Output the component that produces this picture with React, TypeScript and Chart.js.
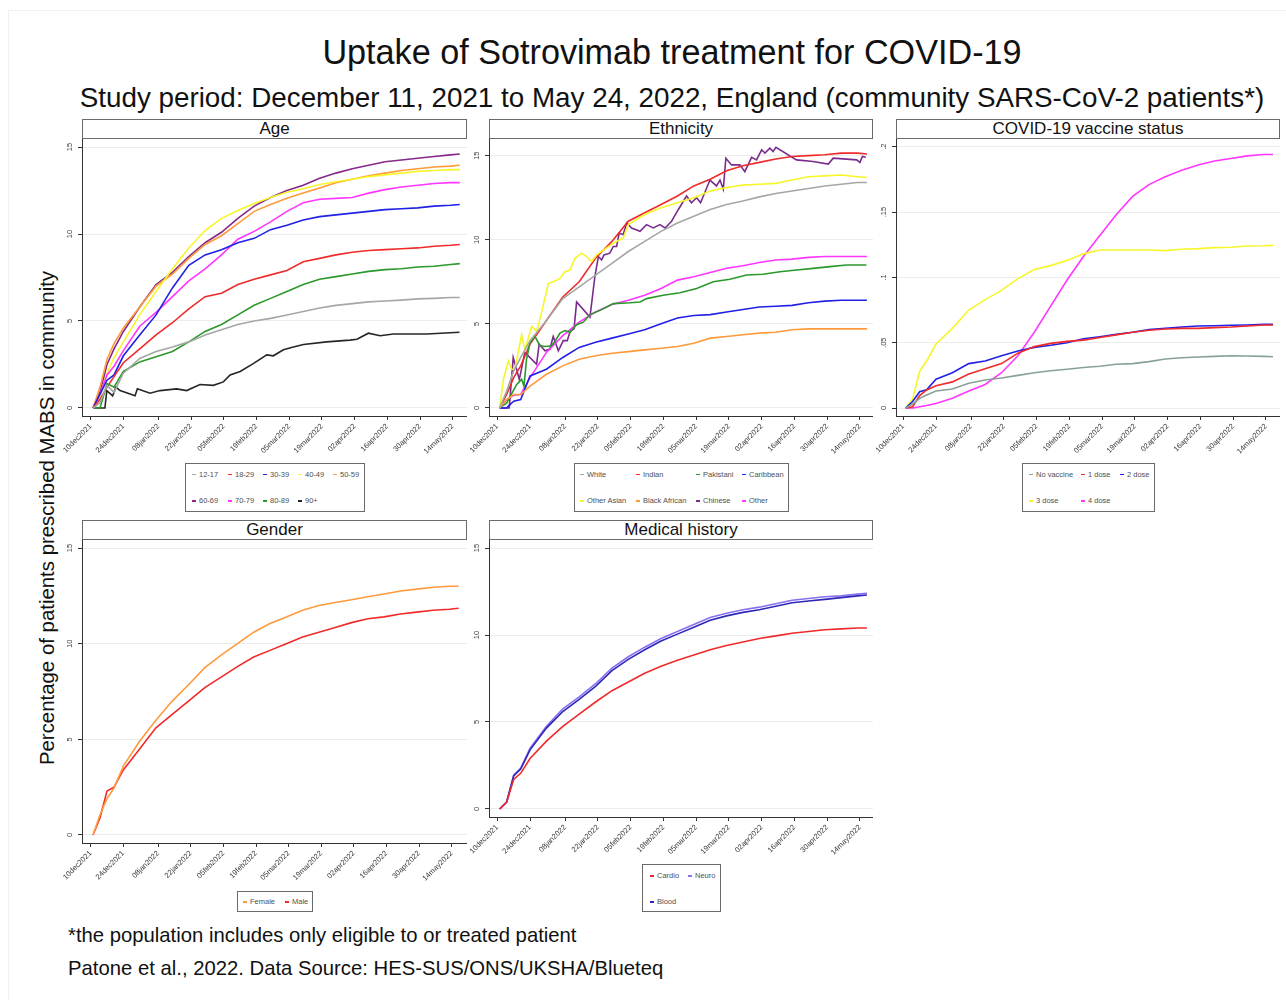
import React, { useEffect, useRef } from 'react';
import { Chart, registerables } from 'chart.js';

Chart.register(...registerables);

const FONT = '"Liberation Sans", Arial, Helvetica, sans-serif';

// ---------- axis ticks ----------
const dateTickDays = [0, 14, 29, 43, 57, 71, 85, 99, 113, 127, 141, 155];
const dateTickLabels = ['10dec2021', '24dec2021', '08jan2022', '22jan2022', '05feb2022', '19feb2022', '05mar2022', '19mar2022', '02apr2022', '16apr2022', '30apr2022', '14may2022'];
const pctTicks = [0, 5, 10, 15];
const pctTickLabels = ['0', '5', '10', '15'];
const vacTicks = [0, 0.05, 0.1, 0.15, 0.2];
const vacTickLabels = ['0', '.05', '.1', '.15', '.2'];

// ---------- shared day grid (days since 10dec2021) ----------
const days = [1, 4, 7, 10, 14, 21, 28, 35, 42, 49, 56, 63, 70, 77, 84, 91, 98, 105, 112, 119, 126, 133, 140, 147, 154, 158];

// ---------- Age ----------
const age1217 = [0, 0.3, 1.3, 0.9, 2.0, 2.85, 3.25, 3.5, 3.8, 4.2, 4.5, 4.8, 5.0, 5.15, 5.35, 5.55, 5.75, 5.9, 6.0, 6.1, 6.15, 6.2, 6.27, 6.3, 6.35, 6.35];
const age1829 = [0, 0.5, 1.2, 1.8, 2.6, 3.4, 4.2, 4.9, 5.7, 6.4, 6.6, 7.1, 7.4, 7.65, 7.9, 8.4, 8.6, 8.8, 8.95, 9.05, 9.1, 9.15, 9.2, 9.3, 9.35, 9.4];
const age3039 = [0, 0.8, 1.6, 1.9, 3.0, 4.2, 5.35, 6.9, 8.2, 8.8, 9.1, 9.5, 9.75, 10.25, 10.5, 10.8, 11.0, 11.1, 11.2, 11.3, 11.4, 11.45, 11.5, 11.6, 11.65, 11.7];
const age4049 = [0, 0.7, 2.0, 2.9, 3.8, 5.35, 6.7, 8.0, 9.2, 10.2, 10.9, 11.35, 11.75, 12.1, 12.4, 12.6, 12.85, 13.0, 13.15, 13.3, 13.4, 13.5, 13.6, 13.65, 13.7, 13.7];
const age5059 = [0, 1.2, 2.8, 3.7, 4.6, 5.8, 7.0, 7.7, 8.6, 9.4, 9.9, 10.6, 11.3, 11.7, 12.05, 12.35, 12.65, 12.95, 13.15, 13.35, 13.5, 13.65, 13.75, 13.85, 13.9, 13.95];
const age6069 = [0, 0.9, 2.5, 3.4, 4.4, 5.8, 7.1, 7.8, 8.7, 9.5, 10.1, 10.9, 11.6, 12.1, 12.5, 12.8, 13.2, 13.5, 13.75, 13.95, 14.15, 14.25, 14.35, 14.45, 14.55, 14.6];
const age7079 = [0, 0.8, 1.9, 2.4, 3.3, 4.7, 5.5, 6.4, 7.3, 8.0, 8.8, 9.7, 10.15, 10.7, 11.3, 11.8, 12.0, 12.05, 12.1, 12.35, 12.55, 12.7, 12.8, 12.9, 12.95, 12.95];
const age8089 = [0, 0, 1.4, 1.2, 2.1, 2.65, 2.95, 3.25, 3.8, 4.4, 4.8, 5.35, 5.9, 6.3, 6.7, 7.1, 7.4, 7.55, 7.7, 7.85, 7.95, 8.0, 8.1, 8.15, 8.25, 8.3];
const age90Days = [1, 6.1, 6.9, 9.4, 10.8, 12.6, 19.0, 20.0, 25.4, 29.7, 36.8, 41.1, 46.8, 52.5, 56.8, 59.7, 64.0, 69.6, 75.4, 78.2, 82.5, 86.8, 91.1, 101, 111, 114, 118.9, 123.9, 129.6, 143.9, 157.9];
const age90 = [0, 0, 1.0, 0.7, 1.2, 1.0, 0.7, 1.1, 0.85, 1.0, 1.1, 1.0, 1.35, 1.3, 1.5, 1.9, 2.1, 2.55, 3.05, 3.0, 3.35, 3.5, 3.65, 3.8, 3.9, 3.95, 4.3, 4.15, 4.25, 4.25, 4.35];

// ---------- Ethnicity ----------
const ethWhite = [0, 1.0, 2.2, 3.0, 4.0, 5.2, 6.5, 7.2, 7.9, 8.6, 9.3, 9.9, 10.5, 11.0, 11.4, 11.8, 12.1, 12.3, 12.55, 12.75, 12.9, 13.05, 13.2, 13.3, 13.4, 13.4];
const ethIndian = [0, 0.8, 1.8, 2.5, 3.8, 5.2, 6.6, 7.5, 8.9, 9.9, 11.1, 11.6, 12.1, 12.6, 13.2, 13.6, 14.1, 14.4, 14.6, 14.8, 14.95, 15.0, 15.05, 15.15, 15.15, 15.1];
const ethPakDays = [1, 4, 8.3, 10.4, 11.4, 12.5, 14.0, 16.1, 18.2, 20.4, 23.2, 24.6, 26.8, 28.9, 31.1, 33.9, 36.8, 39.6, 43.9, 49.6, 56.7, 61.0, 63.8, 70.9, 78.1, 85.2, 92.3, 99.4, 106.6, 113.7, 120.8, 127.9, 135.0, 142.2, 149.3, 157.8];
const ethPak = [0, 0.3, 1.4, 1.7, 1.3, 2.9, 3.9, 4.25, 3.7, 3.65, 3.7, 3.95, 4.45, 4.6, 4.5, 4.95, 5.1, 5.55, 5.8, 6.2, 6.25, 6.3, 6.5, 6.7, 6.85, 7.1, 7.5, 7.65, 7.9, 7.95, 8.1, 8.2, 8.3, 8.4, 8.5, 8.5];
const ethCarib = [0, 0, 0.4, 0.5, 1.9, 2.3, 3.0, 3.6, 3.9, 4.15, 4.4, 4.65, 5.0, 5.35, 5.5, 5.55, 5.7, 5.85, 6.0, 6.05, 6.1, 6.25, 6.35, 6.4, 6.4, 6.4];
const ethOAsianDays = [1, 2.6, 4.7, 6.1, 7.5, 10.4, 11.8, 14.7, 16.8, 18.9, 21.8, 23.9, 26.8, 28.9, 31.1, 33.2, 36.0, 38.2, 40.3, 42.5, 49.6, 53.8, 56.0, 63, 70, 77, 84, 91, 98, 105, 112, 119, 126, 133, 140, 147, 154, 158];
const ethOAsian = [0, 1.7, 2.8, 2.3, 2.3, 4.35, 3.45, 4.85, 4.55, 5.65, 7.4, 7.5, 7.7, 8.1, 8.2, 8.9, 9.2, 9.0, 8.7, 9.1, 9.8, 10.1, 10.9, 11.5, 11.9, 12.2, 12.5, 12.9, 13.1, 13.25, 13.3, 13.35, 13.55, 13.75, 13.8, 13.85, 13.75, 13.7];
const ethBlackAf = [0, 0.5, 0.8, 0.8, 1.3, 2.0, 2.5, 2.9, 3.1, 3.25, 3.35, 3.45, 3.55, 3.65, 3.85, 4.15, 4.25, 4.35, 4.45, 4.5, 4.65, 4.7, 4.7, 4.7, 4.7, 4.7];
const ethChineseDays = [1, 5.1, 6.8, 9.4, 11.8, 16.8, 17.9, 20.4, 22.5, 23.9, 26.1, 28.2, 29.9, 31.1, 32.8, 33.9, 39.6, 41.7, 43.2, 44.6, 45.6, 48.1, 49.6, 51.0, 52.1, 53.8, 55.3, 57.4, 61.0, 63.8, 66.7, 69.5, 71.7, 74.5, 77.4, 80.9, 83.0, 85.2, 86.9, 90.9, 93.7, 95.2, 96.6, 97.7, 100.1, 103.7, 105.8, 108.7, 110.8, 113.0, 114.4, 116.5, 117.9, 119.1, 127.9, 135.0, 141.5, 143.6, 153.6, 155.0, 156.1, 157.5];
const ethChinese = [0, 0, 3.0, 1.7, 3.3, 2.6, 3.8, 3.4, 3.5, 4.25, 3.4, 4.0, 4.0, 4.55, 4.7, 6.3, 5.4, 7.8, 9.0, 8.8, 9.1, 9.2, 9.6, 9.6, 10.4, 10.3, 11.0, 10.7, 10.5, 10.9, 10.7, 10.9, 10.7, 11.1, 11.8, 12.6, 12.2, 12.5, 12.2, 13.55, 13.2, 13.55, 13.0, 14.85, 14.45, 14.45, 14.05, 14.9, 14.75, 15.35, 15.15, 15.45, 15.25, 15.5, 14.75, 14.65, 14.5, 14.85, 14.75, 14.6, 14.95, 14.9];
const ethOther = [0, 0.5, 0.75, 0.8, 1.8, 3.3, 4.3, 5.1, 5.7, 6.15, 6.4, 6.7, 7.1, 7.6, 7.8, 8.05, 8.3, 8.45, 8.65, 8.8, 8.85, 8.95, 9.0, 9.0, 9.0, 9.0];

// ---------- COVID-19 vaccine status (proportions) ----------
const vacNone = [0, 0.003, 0.0074, 0.010, 0.013, 0.0145, 0.019, 0.0214, 0.023, 0.025, 0.027, 0.0285, 0.0297, 0.031, 0.032, 0.0335, 0.034, 0.0355, 0.0375, 0.0385, 0.039, 0.0395, 0.040, 0.0398, 0.0395, 0.0393];
const vacDose1 = [0, 0.001, 0.0095, 0.0138, 0.017, 0.020, 0.026, 0.030, 0.034, 0.042, 0.047, 0.0495, 0.051, 0.052, 0.054, 0.056, 0.058, 0.0595, 0.0605, 0.061, 0.061, 0.0615, 0.062, 0.0628, 0.0635, 0.0635];
const vacDose2 = [0, 0.005, 0.0125, 0.014, 0.022, 0.027, 0.034, 0.036, 0.040, 0.0436, 0.0464, 0.048, 0.050, 0.053, 0.0546, 0.0564, 0.058, 0.060, 0.061, 0.062, 0.0628, 0.063, 0.0633, 0.0636, 0.064, 0.064];
const vacDose3 = [0, 0.007, 0.028, 0.036, 0.049, 0.061, 0.075, 0.083, 0.090, 0.099, 0.106, 0.109, 0.113, 0.118, 0.121, 0.121, 0.121, 0.121, 0.1205, 0.1215, 0.122, 0.1228, 0.123, 0.124, 0.1242, 0.1245];
const vacDose4 = [0, 0, 0.001, 0.002, 0.0035, 0.0075, 0.013, 0.018, 0.027, 0.040, 0.058, 0.078, 0.098, 0.116, 0.132, 0.148, 0.162, 0.171, 0.177, 0.182, 0.186, 0.189, 0.191, 0.193, 0.194, 0.194];

// ---------- Gender ----------
const genFemale = [0, 1.06, 1.9, 2.45, 3.6, 4.9, 6.0, 7.0, 7.85, 8.75, 9.4, 10.0, 10.6, 11.05, 11.4, 11.75, 12.0, 12.15, 12.3, 12.45, 12.6, 12.75, 12.85, 12.95, 13.0, 13.0];
const genMale = [0, 0.9, 2.3, 2.5, 3.4, 4.5, 5.6, 6.3, 7.0, 7.7, 8.25, 8.8, 9.3, 9.65, 10.0, 10.35, 10.6, 10.85, 11.1, 11.3, 11.4, 11.55, 11.65, 11.75, 11.8, 11.85];

// ---------- Medical history ----------
const medCardio = [0, 0.4, 1.7, 2.05, 2.9, 3.9, 4.75, 5.45, 6.15, 6.8, 7.3, 7.8, 8.2, 8.55, 8.85, 9.15, 9.4, 9.6, 9.8, 9.95, 10.1, 10.2, 10.3, 10.35, 10.4, 10.4];
const medNeuro = [0, 0.4, 1.95, 2.35, 3.5, 4.75, 5.75, 6.45, 7.2, 8.1, 8.75, 9.3, 9.8, 10.2, 10.6, 11.0, 11.25, 11.45, 11.6, 11.8, 12.0, 12.1, 12.2, 12.25, 12.35, 12.4];
const medBlood = [0, 0.4, 1.9, 2.3, 3.4, 4.65, 5.6, 6.3, 7.05, 7.95, 8.6, 9.15, 9.65, 10.05, 10.45, 10.85, 11.1, 11.3, 11.45, 11.65, 11.85, 11.95, 12.05, 12.15, 12.25, 12.3];

// ---------- colours ----------
const C = {
  grey: '#a3a8a3',
  red: '#f02a2a',
  blue: '#2020e6',
  yellow: '#f6f62a',
  orange: '#ff9a3c',
  purple: '#86288a',
  magenta: '#ff36ff',
  green: '#2a982a',
  black: '#262626',
  teal: '#89a096',
  chinese: '#7a2c8c',
  neuro: '#8a6ef0',
  blood: '#2c28b8',
};

type Series = { label: string; color: string; x: number[]; y: number[] };

type PanelCfg = {
  title: string;
  areaLeft: number; areaRight: number; areaTop: number; areaBottom: number;
  canvasLeft: number; canvasBottom: number;
  xMin: number; xMax: number; yMin: number; yMax: number;
  yTicks: number[]; yTickLabels: string[];
  series: Series[];
};

function ChartPanel({ cfg }: { cfg: PanelCfg }) {
  const ref = useRef<HTMLCanvasElement | null>(null);
  const w = cfg.areaRight - cfg.canvasLeft;
  const h = cfg.canvasBottom - cfg.areaTop;
  useEffect(() => {
    const canvas = ref.current;
    if (!canvas) return;
    const yAxisW = cfg.areaLeft - cfg.canvasLeft;
    const xAxisH = cfg.canvasBottom - cfg.areaBottom;
    const yLabelPlugin = {
      id: 'rotatedYLabels',
      afterDraw(chart: any) {
        const s = chart.scales.y;
        const ctx = chart.ctx;
        ctx.save();
        ctx.font = `7.5px ${FONT}`;
        ctx.fillStyle = '#3a3a3a';
        ctx.textAlign = 'center';
        ctx.textBaseline = 'middle';
        cfg.yTicks.forEach((v, i) => {
          const py = s.getPixelForValue(v);
          ctx.save();
          ctx.translate(s.right - 12, py);
          ctx.rotate(-Math.PI / 2);
          ctx.fillText(cfg.yTickLabels[i], 0, 0);
          ctx.restore();
        });
        ctx.restore();
      },
    };
    const chart = new Chart(canvas, {
      type: 'line',
      data: {
        datasets: cfg.series.map((s) => ({
          label: s.label,
          data: s.x.map((d, i) => ({ x: d, y: s.y[i] })),
          borderColor: s.color,
          backgroundColor: s.color,
          borderWidth: 1.6,
          pointRadius: 0,
          tension: 0,
          fill: false,
        })),
      },
      options: {
        animation: false,
        responsive: false,
        maintainAspectRatio: false,
        devicePixelRatio: 1,
        layout: { padding: 0 },
        plugins: { legend: { display: false }, tooltip: { enabled: false }, title: { display: false } },
        scales: {
          x: {
            type: 'linear',
            min: cfg.xMin,
            max: cfg.xMax,
            afterBuildTicks: (s: any) => { s.ticks = dateTickDays.map((v) => ({ value: v })); },
            afterFit: (s: any) => { s.height = xAxisH; s.paddingLeft = 0; s.paddingRight = 0; s.paddingTop = 0; s.paddingBottom = 0; },
            ticks: {
              autoSkip: false,
              minRotation: 45,
              maxRotation: 45,
              padding: 2,
              color: '#3a3a3a',
              font: { family: FONT, size: 7.5 },
              callback: (v: any) => {
                const i = dateTickDays.indexOf(Number(v));
                return i >= 0 ? dateTickLabels[i] : '';
              },
            },
            grid: { drawOnChartArea: false, drawTicks: true, tickLength: 4, tickColor: '#333', color: '#333' },
            border: { display: true, color: '#333', width: 1 },
          },
          y: {
            type: 'linear',
            min: cfg.yMin,
            max: cfg.yMax,
            afterBuildTicks: (s: any) => { s.ticks = cfg.yTicks.map((v) => ({ value: v })); },
            afterFit: (s: any) => { s.width = yAxisW; s.paddingTop = 0; s.paddingBottom = 0; s.paddingLeft = 0; s.paddingRight = 0; },
            ticks: { display: false },
            grid: { color: '#ececec', lineWidth: 1, drawTicks: true, tickLength: 4, tickColor: '#333' },
            border: { display: true, color: '#333', width: 1 },
          },
        },
      } as any,
      plugins: [yLabelPlugin],
    });
    return () => chart.destroy();
  }, [cfg]);

  return (
    <>
      <canvas
        ref={ref}
        width={w}
        height={h}
        style={{ position: 'absolute', left: cfg.canvasLeft, top: cfg.areaTop, width: w, height: h }}
      />
      <div
        style={{
          position: 'absolute',
          left: cfg.areaLeft,
          top: cfg.areaTop - 20,
          width: cfg.areaRight - cfg.areaLeft,
          height: 20,
          boxSizing: 'border-box',
          border: '1px solid #6a6a6a',
          background: '#fff',
          textAlign: 'center',
          fontFamily: FONT,
          fontSize: 17,
          lineHeight: '18px',
          color: '#111',
        }}
      >
        {cfg.title}
      </div>
    </>
  );
}

type LegendItem = { label: string; color: string; x: number; y: number };

function Legend({ left, top, width, height, items }: { left: number; top: number; width: number; height: number; items: LegendItem[] }) {
  return (
    <>
      <div
        style={{
          position: 'absolute', left, top, width, height, boxSizing: 'border-box',
          border: '1px solid #6a6a6a', background: '#fff',
        }}
      />
      {items.map((it) => (
        <React.Fragment key={it.label}>
          <div style={{ position: 'absolute', left: it.x, top: it.y - 0.75, width: 4, height: 1.5, background: it.color }} />
          <div
            style={{
              position: 'absolute', left: it.x + 7, top: it.y - 5, height: 10, lineHeight: '10px',
              fontFamily: FONT, fontSize: 7.5, color: '#505050', whiteSpace: 'nowrap',
            }}
          >
            {it.label}
          </div>
        </React.Fragment>
      ))}
    </>
  );
}

const agePanel: PanelCfg = {
  title: 'Age',
  areaLeft: 82, areaRight: 467, areaTop: 139, areaBottom: 416, canvasLeft: 58, canvasBottom: 458,
  xMin: -3.71, xMax: 161.1, yMin: -0.46, yMax: 15.46,
  yTicks: pctTicks, yTickLabels: pctTickLabels,
  series: [
    { label: '12-17', color: C.grey, x: days, y: age1217 },
    { label: '80-89', color: C.green, x: days, y: age8089 },
    { label: '18-29', color: C.red, x: days, y: age1829 },
    { label: '30-39', color: C.blue, x: days, y: age3039 },
    { label: '70-79', color: C.magenta, x: days, y: age7079 },
    { label: '40-49', color: C.yellow, x: days, y: age4049 },
    { label: '50-59', color: C.orange, x: days, y: age5059 },
    { label: '60-69', color: C.purple, x: days, y: age6069 },
    { label: '90+', color: C.black, x: age90Days, y: age90 },
  ],
};

const ethPanel: PanelCfg = {
  title: 'Ethnicity',
  areaLeft: 489, areaRight: 873, areaTop: 139, areaBottom: 416, canvasLeft: 466, canvasBottom: 458,
  xMin: -3.55, xMax: 160.6, yMin: -0.48, yMax: 15.99,
  yTicks: pctTicks, yTickLabels: pctTickLabels,
  series: [
    { label: 'White', color: C.grey, x: days, y: ethWhite },
    { label: 'Black African', color: C.orange, x: days, y: ethBlackAf },
    { label: 'Caribbean', color: C.blue, x: days, y: ethCarib },
    { label: 'Pakistani', color: C.green, x: ethPakDays, y: ethPak },
    { label: 'Other', color: C.magenta, x: days, y: ethOther },
    { label: 'Other Asian', color: C.yellow, x: ethOAsianDays, y: ethOAsian },
    { label: 'Indian', color: C.red, x: days, y: ethIndian },
    { label: 'Chinese', color: C.chinese, x: ethChineseDays, y: ethChinese },
  ],
};

const vacPanel: PanelCfg = {
  title: 'COVID-19 vaccine status',
  areaLeft: 896, areaRight: 1280, areaTop: 139, areaBottom: 416, canvasLeft: 873, canvasBottom: 458,
  xMin: -3.1, xMax: 161.0, yMin: -0.0061, yMax: 0.2059,
  yTicks: vacTicks, yTickLabels: vacTickLabels,
  series: [
    { label: 'No vaccine', color: C.teal, x: days, y: vacNone },
    { label: '1 dose', color: C.red, x: days, y: vacDose1 },
    { label: '2 dose', color: C.blue, x: days, y: vacDose2 },
    { label: '3 dose', color: C.yellow, x: days, y: vacDose3 },
    { label: '4 dose', color: C.magenta, x: days, y: vacDose4 },
  ],
};

const genPanel: PanelCfg = {
  title: 'Gender',
  areaLeft: 82, areaRight: 467, areaTop: 540, areaBottom: 843, canvasLeft: 58, canvasBottom: 885,
  xMin: -3.74, xMax: 161.6, yMin: -0.42, yMax: 15.42,
  yTicks: pctTicks, yTickLabels: pctTickLabels,
  series: [
    { label: 'Female', color: C.orange, x: days, y: genFemale },
    { label: 'Male', color: C.red, x: days, y: genMale },
  ],
};

const medPanel: PanelCfg = {
  title: 'Medical history',
  areaLeft: 489, areaRight: 873, areaTop: 540, areaBottom: 817, canvasLeft: 466, canvasBottom: 860,
  xMin: -3.55, xMax: 160.6, yMin: -0.46, yMax: 15.46,
  yTicks: pctTicks, yTickLabels: pctTickLabels,
  series: [
    { label: 'Cardio', color: C.red, x: days, y: medCardio },
    { label: 'Blood', color: C.blood, x: days, y: medBlood },
    { label: 'Neuro', color: C.neuro, x: days, y: medNeuro },
  ],
};

export default function App() {
  return (
    <div style={{ position: 'absolute', left: 0, top: 0, width: 1286, height: 1000, background: '#fff', overflow: 'hidden', fontFamily: FONT }}>
      <div style={{ position: 'absolute', left: 8, top: 10, width: 1300, height: 1000, border: '1px solid #edf1f1', boxSizing: 'border-box' }} />
      <div style={{ position: 'absolute', left: 0, width: 1344, top: 35, textAlign: 'center', fontSize: 34.2, lineHeight: '34px', color: '#111', whiteSpace: 'nowrap' }}>
        Uptake of Sotrovimab treatment for COVID-19
      </div>
      <div style={{ position: 'absolute', left: 0, width: 1344, top: 83.5, textAlign: 'center', fontSize: 27.8, lineHeight: '28px', color: '#111', whiteSpace: 'nowrap' }}>
        Study period: December 11, 2021 to May 24, 2022, England (community SARS-CoV-2 patients*)
      </div>
      <div
        style={{
          position: 'absolute', left: 47, top: 518, transform: 'translate(-50%, -50%) rotate(-90deg)',
          fontSize: 20.4, lineHeight: '22px', color: '#111', whiteSpace: 'nowrap',
        }}
      >
        Percentage of patients prescribed MABS in community
      </div>

      <ChartPanel cfg={agePanel} />
      <ChartPanel cfg={ethPanel} />
      <ChartPanel cfg={vacPanel} />
      <ChartPanel cfg={genPanel} />
      <ChartPanel cfg={medPanel} />

      <Legend
        left={185} top={463} width={180} height={49}
        items={[
          { label: '12-17', color: C.grey, x: 192, y: 474.5 },
          { label: '18-29', color: C.red, x: 228, y: 474.5 },
          { label: '30-39', color: C.blue, x: 263, y: 474.5 },
          { label: '40-49', color: C.yellow, x: 298, y: 474.5 },
          { label: '50-59', color: C.orange, x: 333, y: 474.5 },
          { label: '60-69', color: C.purple, x: 192, y: 501 },
          { label: '70-79', color: C.magenta, x: 228, y: 501 },
          { label: '80-89', color: C.green, x: 263, y: 501 },
          { label: '90+', color: C.black, x: 298, y: 501 },
        ]}
      />
      <Legend
        left={574} top={463} width={215} height={49}
        items={[
          { label: 'White', color: C.grey, x: 580, y: 474.5 },
          { label: 'Indian', color: C.red, x: 636, y: 474.5 },
          { label: 'Pakistani', color: C.green, x: 696, y: 474.5 },
          { label: 'Caribbean', color: C.blue, x: 742, y: 474.5 },
          { label: 'Other Asian', color: C.yellow, x: 580, y: 501 },
          { label: 'Black African', color: C.orange, x: 636, y: 501 },
          { label: 'Chinese', color: C.chinese, x: 696, y: 501 },
          { label: 'Other', color: C.magenta, x: 742, y: 501 },
        ]}
      />
      <Legend
        left={1022} top={463} width={133} height={49}
        items={[
          { label: 'No vaccine', color: C.teal, x: 1029, y: 474.5 },
          { label: '1 dose', color: C.red, x: 1081, y: 474.5 },
          { label: '2 dose', color: C.blue, x: 1120, y: 474.5 },
          { label: '3 dose', color: C.yellow, x: 1029, y: 501 },
          { label: '4 dose', color: C.magenta, x: 1081, y: 501 },
        ]}
      />
      <Legend
        left={237} top={891} width={76} height={21}
        items={[
          { label: 'Female', color: C.orange, x: 243, y: 902 },
          { label: 'Male', color: C.red, x: 285, y: 902 },
        ]}
      />
      <Legend
        left={642} top={864} width={79} height={48}
        items={[
          { label: 'Cardio', color: C.red, x: 650, y: 876 },
          { label: 'Neuro', color: C.neuro, x: 688, y: 876 },
          { label: 'Blood', color: C.blood, x: 650, y: 902 },
        ]}
      />

      <div style={{ position: 'absolute', left: 68, top: 924, fontSize: 20.3, lineHeight: '22px', color: '#111', whiteSpace: 'nowrap' }}>
        *the population includes only eligible to or treated patient
      </div>
      <div style={{ position: 'absolute', left: 68, top: 957, fontSize: 20.3, lineHeight: '22px', color: '#111', whiteSpace: 'nowrap' }}>
        Patone et al., 2022. Data Source: HES-SUS/ONS/UKSHA/Blueteq
      </div>
    </div>
  );
}
